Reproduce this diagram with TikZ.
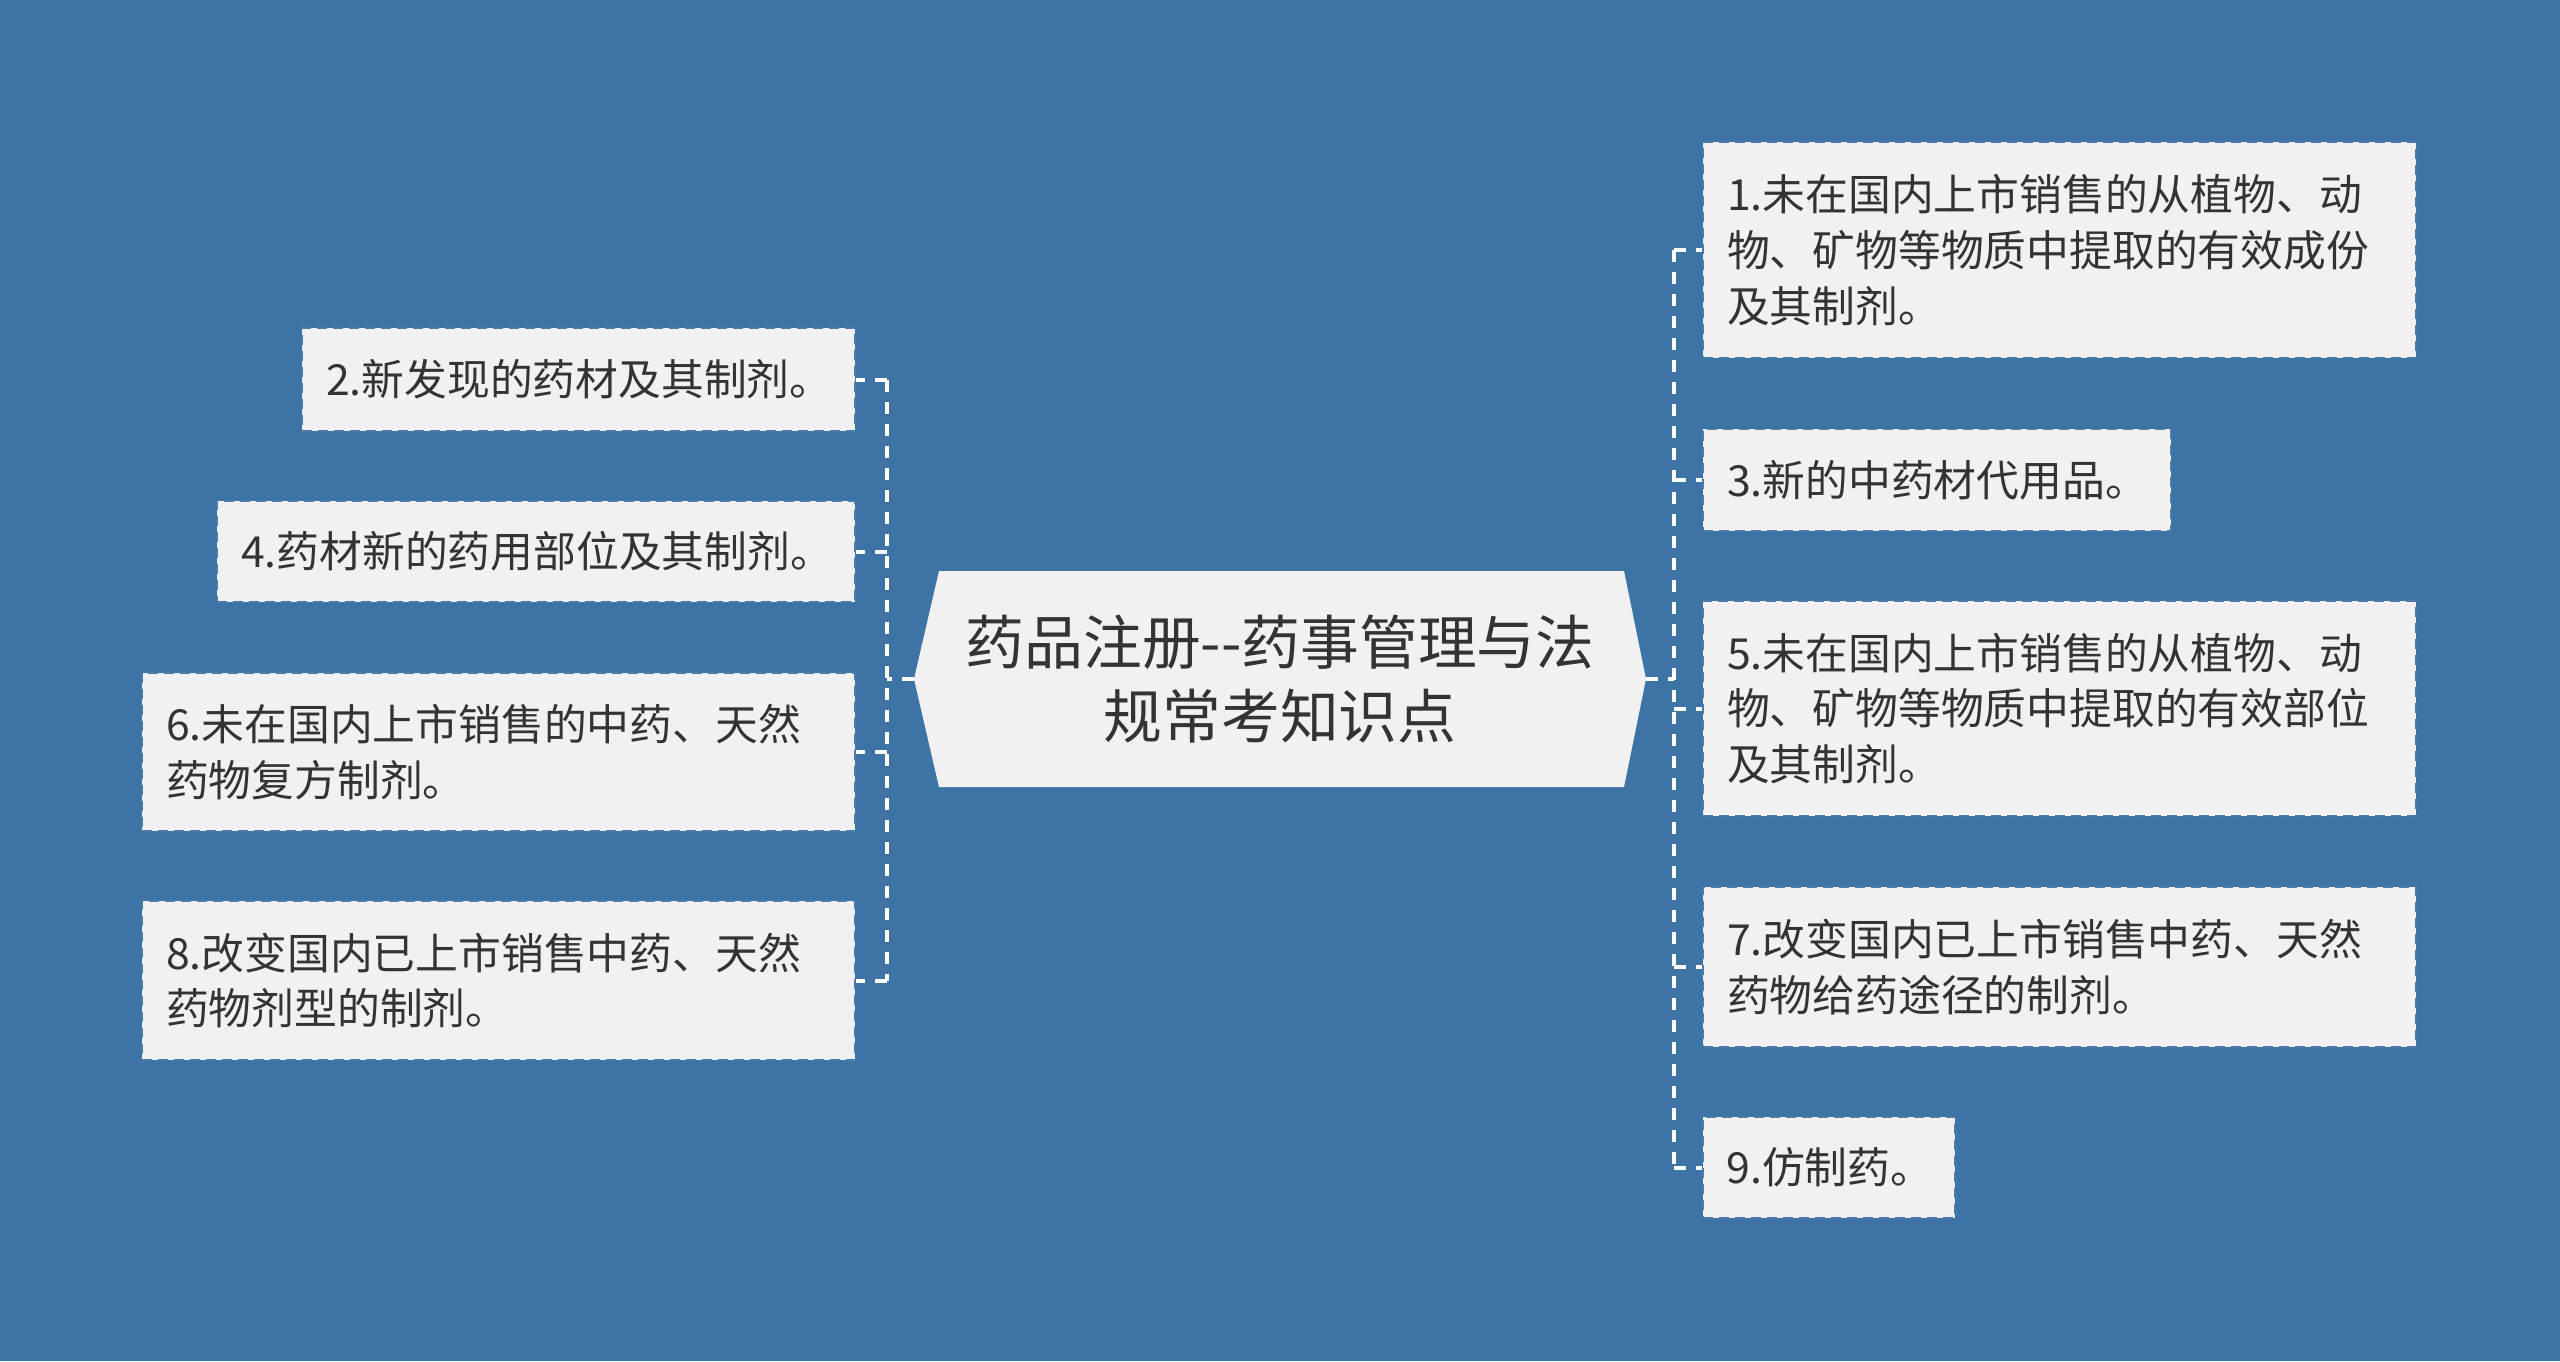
\documentclass[tikz,border=0pt]{standalone}
\usepackage{fontspec}
\newfontfamily\cjk{Noto Sans CJK SC}
\definecolor{bg}{HTML}{3E73A6}
\definecolor{leaffill}{HTML}{F1F1F1}
\definecolor{txt}{HTML}{333333}
\definecolor{leafedge}{HTML}{4A7BAA}
\begin{document}
\begin{tikzpicture}[x=0.5pt,y=-0.5pt,
  leaf/.style={fill=leaffill, draw=leafedge, line width=1pt, dash pattern=on 5pt off 3pt,
    text=txt, font=\cjk\fontsize{21.4}{27.8}\selectfont, inner xsep=12pt, inner ysep=0pt,
    align=left, anchor=center},
  link/.style={draw=white, line width=2pt, dash pattern=on 6pt off 5pt},
  rootshape/.style={fill=leaffill},
  roottext/.style={text=txt, font=\cjk\fontsize{29.4}{36.7}\selectfont, align=center,
    minimum width=366pt, minimum height=108pt, inner sep=0pt}]
\fill[bg] (0,0) rectangle (2560,1361);
\useasboundingbox (0,0) rectangle (2560,1361);
% root
\fill[rootshape] (914,679) -- (939,571) -- (1624,571) -- (1646,679) -- (1624,787) -- (939,787) -- cycle;
\node[roottext] (c) at (1280,679) {药品注册--药事管理与法\\规常考知识点};
% right nodes
\node[leaf, text width=332.5pt, minimum height=108pt] (n1) at (2059.5,250) {1.未在国内上市销售的从植物、动\\物、矿物等物质中提取的有效成份\\及其制剂。};
\node[leaf, text width=210pt, minimum height=51pt] (n3) at (1937,480) {3.新的中药材代用品。};
\node[leaf, text width=332.5pt, minimum height=107.5pt] (n5) at (2059.5,708.5) {5.未在国内上市销售的从植物、动\\物、矿物等物质中提取的有效部位\\及其制剂。};
\node[leaf, text width=332.5pt, minimum height=80pt] (n7) at (2059.5,967) {7.改变国内已上市销售中药、天然\\药物给药途径的制剂。};
\node[leaf, text width=102pt, minimum height=50.5pt] (n9) at (1828.5,1167.5) {9.仿制药。};
% left nodes
\node[leaf, text width=252.5pt, minimum height=51.5pt] (n2) at (578.5,379.5) {2.新发现的药材及其制剂。};
\node[leaf, text width=295pt, minimum height=50.5pt] (n4) at (536,551.5) {4.药材新的药用部位及其制剂。};
\node[leaf, text width=332.5pt, minimum height=79pt] (n6) at (498.5,752) {6.未在国内上市销售的中药、天然\\药物复方制剂。};
\node[leaf, text width=332.5pt, minimum height=79.5pt] (n8) at (498.5,980.5) {8.改变国内已上市销售中药、天然\\药物剂型的制剂。};
% trunks
\coordinate (L) at (887,679);
\coordinate (R) at (1674,679);
\draw[link] (c.west) -- (L);
\draw[link] (c.east) -- (R);
\draw[link] (L|-n2.east) -- (L|-n8.east);
\draw[link] (R|-n1.west) -- (R|-n9.west);
\foreach \n in {n2,n4,n6,n8} \draw[link] (L|-\n.east) -- (\n.east);
\foreach \n in {n1,n3,n5,n7,n9} \draw[link] (R|-\n.west) -- (\n.west);
\end{tikzpicture}
\end{document}
